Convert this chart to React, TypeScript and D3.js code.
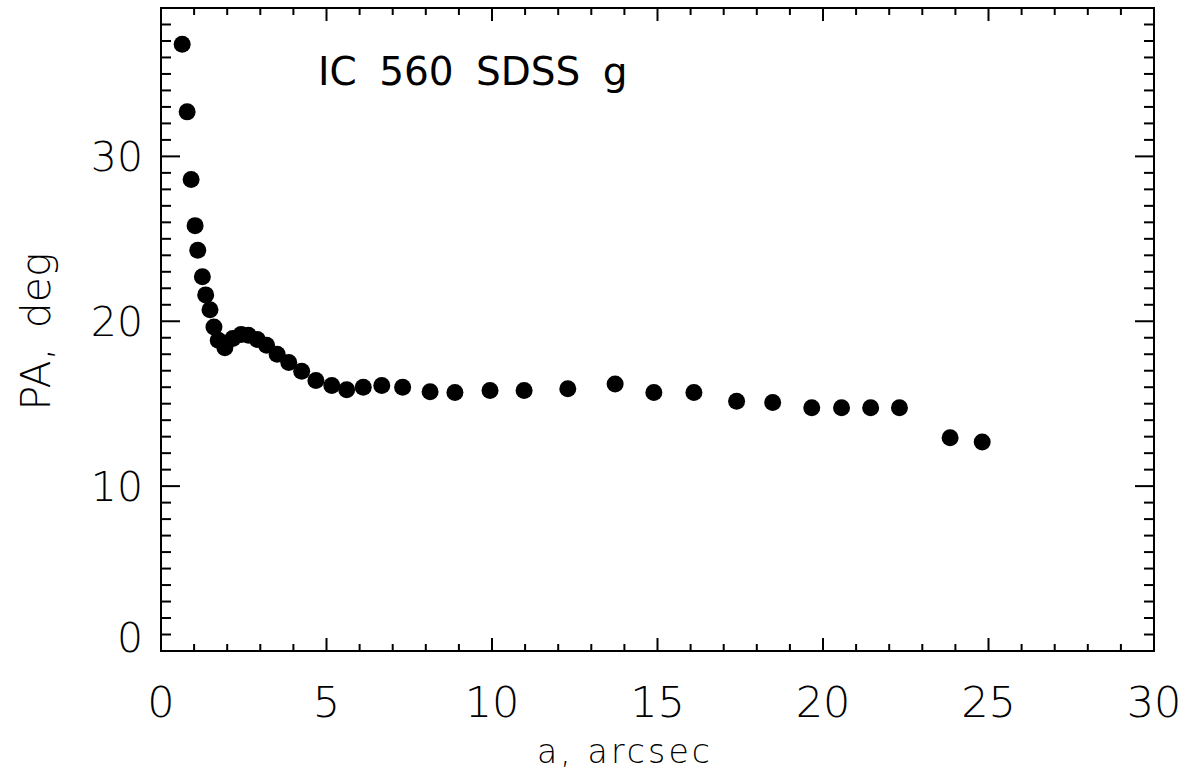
// PA profile of IC 560 (SDSS g) drawn with D3
import React, { useEffect, useRef } from 'react';
import * as d3 from 'd3';

const semiAxis = [
  0.64, 0.79, 0.91, 1.03, 1.11, 1.25, 1.35, 1.48, 1.6, 1.73, 1.93, 2.17, 2.42, 2.64,
  2.91, 3.19, 3.51, 3.86, 4.25, 4.68, 5.16, 5.61, 6.11, 6.67, 7.3, 8.13, 8.88, 9.94,
  10.97, 12.29, 13.72, 14.89, 16.1, 17.39, 18.48, 19.66, 20.56, 21.44, 22.31, 23.84, 24.81,
];
const positionAngle = [
  36.8, 32.7, 28.6, 25.8, 24.3, 22.7, 21.6, 20.7, 19.65, 18.85, 18.4, 18.95, 19.2, 19.15,
  18.9, 18.55, 18.0, 17.5, 16.97, 16.4, 16.1, 15.85, 16.0, 16.1, 16.0, 15.72, 15.68, 15.8,
  15.8, 15.9, 16.2, 15.68, 15.68, 15.15, 15.07, 14.75, 14.75, 14.75, 14.75, 12.93, 12.68,
];
const xMajorTicks = [0, 5, 10, 15, 20, 25, 30];
const yMajorTicks = [0, 10, 20, 30];
const title = 'IC 560 SDSS g';
const xLabel = 'a, arcsec';
const yLabel = 'PA, deg';

const App: React.FC = () => {
  const ref = useRef<SVGSVGElement>(null);

  useEffect(() => {
    if (!ref.current) return;
    const svg = d3.select(ref.current);
    svg.selectAll('*').remove();

    const width = 1184;
    const height = 771;
    const left = 161;
    const right = 1154;
    const top = 8;
    const bottom = 651;
    const font = "'DejaVu Sans', 'Liberation Sans', sans-serif";

    svg.attr('width', width).attr('height', height);

    const x = d3.scaleLinear().domain([0, 30]).range([left, right]);
    const y = d3.scaleLinear().domain([0, 39]).range([bottom, top]);

    const xMinor = d3.range(0, 31, 1).filter((v) => v % 5 !== 0);
    const yMinor = d3.range(0, 40, 1).filter((v) => v % 10 !== 0);

    const ink = '#000';
    const g = svg.append('g').attr('stroke', ink).attr('stroke-width', 2);

    // frame
    g.append('rect')
      .attr('x', left)
      .attr('y', top)
      .attr('width', right - left)
      .attr('height', bottom - top)
      .attr('fill', 'none');

    // x ticks, bottom and top
    const xTick = (v: number, len: number) => {
      g.append('line').attr('x1', x(v)).attr('x2', x(v)).attr('y1', bottom).attr('y2', bottom - len);
      g.append('line').attr('x1', x(v)).attr('x2', x(v)).attr('y1', top).attr('y2', top + len);
    };
    xMajorTicks.forEach((v) => xTick(v, 13));
    xMinor.forEach((v) => xTick(v, 7));

    // y ticks, left and right
    const yTick = (v: number, len: number) => {
      g.append('line').attr('x1', left).attr('x2', left + len).attr('y1', y(v)).attr('y2', y(v));
      g.append('line').attr('x1', right).attr('x2', right - len).attr('y1', y(v)).attr('y2', y(v));
    };
    yMajorTicks.forEach((v) => yTick(v, 19));
    yMinor.forEach((v) => yTick(v, 10));

    // tick labels
    svg.append('g')
      .selectAll('text')
      .data(xMajorTicks)
      .join('text')
      .attr('x', (d) => x(d))
      .attr('y', 717)
      .attr('text-anchor', 'middle')
      .style('font-family', font)
      .style('font-weight', 200)
      .style('font-size', '43px')
      .text((d) => d);

    svg.append('g')
      .selectAll('text')
      .data(yMajorTicks)
      .join('text')
      .attr('x', left - 18)
      .attr('y', (d) => Math.min(y(d) + 15, bottom + 1))
      .attr('text-anchor', 'end')
      .style('font-family', font)
      .style('font-weight', 200)
      .style('font-size', '41px')
      .text((d) => d);

    // axis titles
    svg.append('text')
      .attr('x', 537)
      .attr('y', 763)
      .attr('textLength', 173)
      .attr('lengthAdjust', 'spacing')
      .style('font-family', font)
      .style('font-weight', 200)
      .style('font-size', '33px')
      .text(xLabel);

    svg.append('text')
      .attr('transform', `translate(50,${(top + bottom) / 2 + 2}) rotate(-90)`)
      .attr('text-anchor', 'middle')
      .style('font-family', font)
      .style('font-weight', 200)
      .style('font-size', '41px')
      .style('word-spacing', '6px')
      .text(yLabel);

    // title inside plot
    svg.append('text')
      .attr('x', 318)
      .attr('y', 85)
      .style('font-family', font)
      .style('font-size', '39px')
      .style('word-spacing', '10px')
      .text(title);

    // points
    svg.append('g')
      .selectAll('circle')
      .data(semiAxis.map((a, i) => [a, positionAngle[i]]))
      .join('circle')
      .attr('cx', (d) => x(d[0]))
      .attr('cy', (d) => y(d[1]))
      .attr('r', 8.5)
      .attr('fill', ink);
  }, []);

  return <svg ref={ref} style={{ position: 'absolute', left: 0, top: 0, background: '#fff' }} />;
};

export default App;
